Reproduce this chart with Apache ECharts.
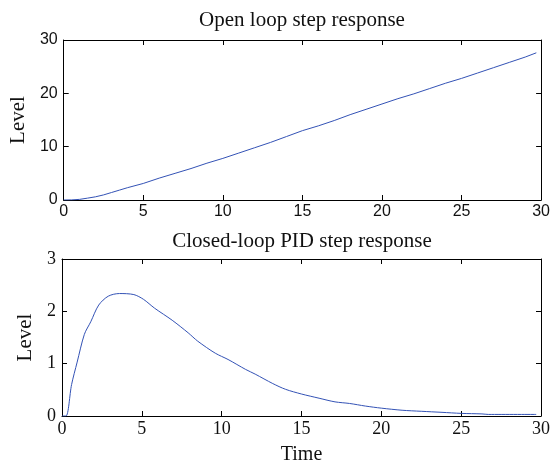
<!DOCTYPE html>
<html lang="en">
<head>
    <meta charset="UTF-8">
    <title>Step responses</title>
    <style>
        html, body { margin: 0; padding: 0; background: #fff; }
        #chart { width: 553px; height: 466px; }
    </style>
</head>
<body>
    <div id="chart"></div>
    <script src="https://cdn.jsdelivr.net/npm/echarts@6/dist/echarts.min.js"></script>
    <script>
        // open loop step response
        var openTime = [0, 0.5, 1, 1.5, 2, 2.5, 3, 3.5, 4, 5, 6, 7, 8, 9, 10, 11, 12, 13, 14, 15, 16, 17, 18, 19, 20, 21, 22, 23, 24, 25, 26, 27, 28, 29, 29.7]
        var openLevel = [0, 0.02, 0.12, 0.35, 0.6, 0.95, 1.4, 1.85, 2.3, 3.1, 4.1, 5.0, 5.9, 6.9, 7.8, 8.8, 9.8, 10.8, 11.9, 13.0, 13.9, 14.9, 16.0, 17.0, 18.0, 19.0, 19.9, 20.9, 21.9, 22.8, 23.8, 24.8, 25.8, 26.8, 27.6]

        // closed-loop PID step response
        var pidTime = [0, 0.25, 0.6, 0.95, 1.4, 1.8, 2.3, 2.9, 3.6, 4.5, 5.1, 5.8, 6.9, 7.9, 8.5, 9.6, 10.4, 11.5, 12.1, 13.2, 14.0, 15.0, 16.1, 17.1, 18.0, 19.0, 20.0, 21.3, 22.5, 23.8, 25.0, 26.3, 26.7, 29.7]
        var pidLevel = [0, 0, 0.6, 1.03, 1.56, 1.8, 2.12, 2.29, 2.34, 2.32, 2.23, 2.06, 1.83, 1.59, 1.43, 1.2, 1.08, 0.89, 0.8, 0.62, 0.51, 0.42, 0.34, 0.27, 0.24, 0.19, 0.15, 0.11, 0.09, 0.07, 0.05, 0.04, 0.03, 0.03]

        function pairs(xs, ys) {
            var out = []
            for (let i = 0; i < xs.length; i++) {
                out.push([xs[i], ys[i]])
            }
            return out
        }

        var sans = 'Liberation Sans, Arial, sans-serif'
        var serif = 'Liberation Serif, Times New Roman, serif'
        var lineStyle = { color: '#000', width: 1 }
        var tick = { inside: true, length: 5, lineStyle: { color: '#000' } }

        function xAx(grid, pos, font, name) {
            return {
                type: 'value', gridIndex: grid, position: pos,
                min: 0, max: 30, interval: 5,
                axisLine: { show: true, onZero: false, lineStyle: lineStyle },
                axisTick: tick,
                splitLine: { show: false },
                axisLabel: pos === 'bottom'
                    ? { show: true, color: '#111', fontFamily: font, fontSize: font === sans ? 16 : 18, margin: 4 }
                    : { show: false },
                name: name || '',
                nameLocation: 'middle',
                nameGap: 29,
                nameTextStyle: { color: '#111', fontFamily: serif, fontSize: 20 }
            }
        }

        function yAx(grid, pos, max, step, font, gap) {
            return {
                type: 'value', gridIndex: grid, position: pos,
                min: 0, max: max, interval: step,
                axisLine: { show: true, onZero: false, lineStyle: lineStyle },
                axisTick: tick,
                splitLine: { show: false },
                axisLabel: pos === 'left'
                    ? { show: true, color: '#111', fontFamily: font, fontSize: font === sans ? 16 : 18, margin: 6 }
                    : { show: false },
                name: pos === 'left' ? 'Level' : '',
                nameLocation: 'middle',
                nameGap: gap,
                nameTextStyle: { color: '#111', fontFamily: serif, fontSize: 21 }
            }
        }

        var myChart = echarts.init(document.getElementById('chart'))

        var option = {
            animation: false,
            backgroundColor: '#fff',
            grid: [
                { left: 62, right: 10, top: 40, height: 160 },
                { left: 62, right: 10, top: 259, height: 161 }
            ],
            xAxis: [
                xAx(0, 'bottom', sans),
                xAx(0, 'top', sans),
                xAx(1, 'bottom', serif, 'Time'),
                xAx(1, 'top', serif)
            ],
            yAxis: [
                yAx(0, 'left', 30, 10, sans, 28),
                yAx(0, 'right', 30, 10, sans, 0),
                yAx(1, 'left', 3, 1, serif, 23),
                yAx(1, 'right', 3, 1, serif, 0)
            ],
            graphic: [
                {
                    type: 'text', x: 302, y: 20,
                    style: { text: 'Open loop step response', font: '21px ' + serif, fill: '#111', textAlign: 'center', textVerticalAlign: 'middle' }
                },
                {
                    type: 'text', x: 302, y: 241,
                    style: { text: 'Closed-loop PID step response', font: '21px ' + serif, fill: '#111', textAlign: 'center', textVerticalAlign: 'middle' }
                }
            ],
            series: [
                {
                    type: 'line', xAxisIndex: 0, yAxisIndex: 0,
                    data: pairs(openTime, openLevel),
                    showSymbol: false, smooth: false,
                    lineStyle: { color: '#3352b5', width: 1 }
                },
                {
                    type: 'line', xAxisIndex: 2, yAxisIndex: 2,
                    data: pairs(pidTime, pidLevel),
                    showSymbol: false, smooth: 0.3,
                    lineStyle: { color: '#3352b5', width: 1 }
                }
            ]
        }
        myChart.setOption(option)
    </script>
</body>
</html>
